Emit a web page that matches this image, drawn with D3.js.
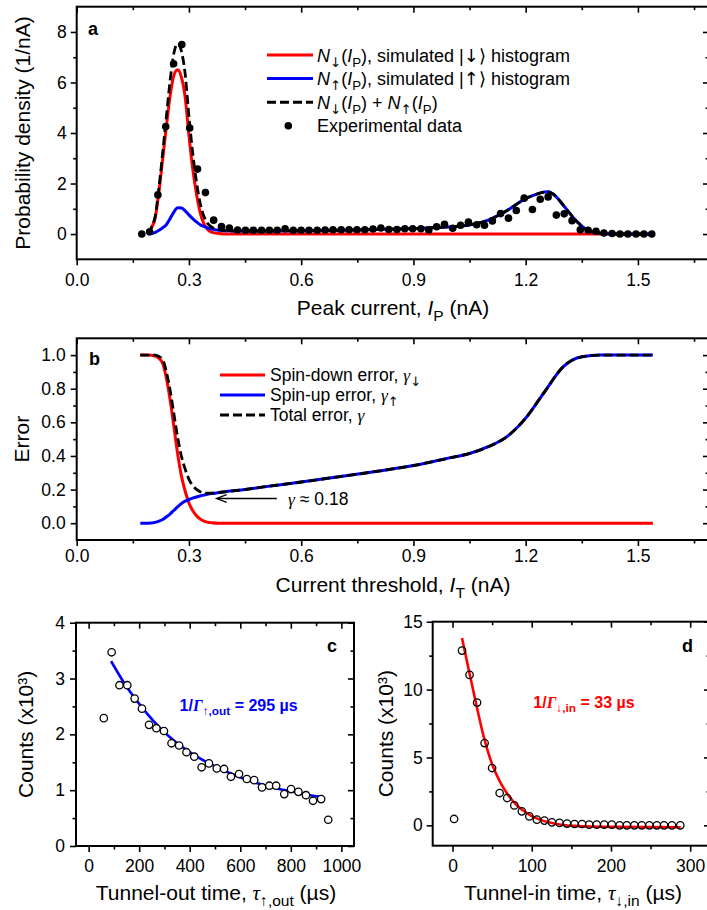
<!DOCTYPE html>
<html lang="en">
<head>
<meta charset="utf-8">
<title>Spin readout histograms</title>
<script src="https://cdn.jsdelivr.net/npm/d3@7"></script>
<style>
body { margin: 0; background: #fff; }
svg { display: block; font-family: "Liberation Sans", Arial, sans-serif; }
.tick line { stroke: #000; stroke-width: 1.6; }
.tick text { font-size: 17.5px; fill: #000; font-family: "Liberation Sans", Arial, sans-serif; }
.frame { fill: none; stroke: #000; stroke-width: 2; }
.title { font-size: 21px; fill: #000; }
.leg { font-size: 18px; fill: #000; }
.lbl { font-size: 18px; font-weight: bold; fill: #000; }
</style>
</head>
<body>
<script>
// ---- panel a : peak current histogram
var aX = [0.174,0.195,0.217,0.238,0.259,0.281,0.302,0.323,0.344,0.366,0.387,0.408,0.430,0.451,0.472,0.494,
  0.515,0.536,0.557,0.579,0.600,0.621,0.643,0.664,0.685,0.707,0.728,0.749,0.770,0.792,0.813,0.834,0.856,
  0.877,0.898,0.920,0.941,0.962,0.983,1.005,1.026,1.047,1.069,1.090,1.111,1.133,1.154,1.175,1.196,1.218,
  1.239,1.260,1.282,1.303,1.324,1.346,1.367,1.388,1.409,1.431,1.452,1.473,1.495,1.516,1.537];
var aY = [0,0.09,1.55,4.26,6.74,7.5,4.2,2.57,1.64,0.55,0.3,0.24,0.16,0.15,0.15,0.15,
  0.15,0.15,0.21,0.15,0.15,0.15,0.15,0.16,0.17,0.17,0.17,0.17,0.17,0.2,0.24,0.18,0.18,
  0.21,0.21,0.21,0.16,0.29,0.39,0.23,0.35,0.47,0.37,0.35,0.52,0.81,0.63,0.93,1.42,0.97,
  1.38,1.47,0.75,0.8,0.53,0.17,0.15,0.11,0.04,0.02,0,0,0,0,0];
var aCurveX = [0.19,0.20,0.21,0.22,0.23,0.24,0.25,0.26,0.27,0.28,0.29,0.30,0.31,0.32,0.33,0.34,0.35,0.36,
  0.38,0.40,0.45,0.50,0.60,0.70,0.80,0.90,0.95,1.00,1.05,1.10,1.15,1.20,1.22,1.24,1.26,1.28,1.30,1.32,
  1.34,1.36,1.38,1.40,1.42,1.45,1.50,1.54];
var aDown = [0,0.25,0.65,1.7,3.0,4.3,5.5,6.3,6.5,6.2,5.4,3.9,2.6,1.6,0.85,0.4,0.18,0.08,
  0.02,0,0,0,0,0,0,0,0,0,0,0,0,0,0,0,0,0,0,0,0,0,0,0,0,0,0,0];
var aUp = [0,0.02,0.07,0.15,0.25,0.38,0.62,0.88,1.04,1.03,0.92,0.76,0.61,0.48,0.37,0.3,0.24,0.2,
  0.15,0.13,0.12,0.12,0.13,0.15,0.18,0.22,0.25,0.29,0.36,0.55,0.93,1.4,1.53,1.63,1.67,1.5,1.15,0.78,
  0.45,0.2,0.08,0.03,0.01,0,0,0];
var aXTicks = [0,0.3,0.6,0.9,1.2,1.5], aXMinor = [0.15,0.45,0.75,1.05,1.35,1.65];
var aYTicks = [0,2,4,6,8], aYMinor = [1,3,5,7];

// ---- panel b : readout error vs threshold
var bCurveX = [0.17,0.19,0.21,0.22,0.23,0.24,0.25,0.26,0.27,0.28,0.29,0.30,0.31,0.32,0.33,0.34,0.35,0.36,
  0.38,0.40,0.45,0.50,0.60,0.70,0.80,0.90,1.00,1.05,1.10,1.15,1.20,1.25,1.30,1.35,1.40,1.45,1.50,1.54];
var bDown = [1,1,0.995,0.98,0.95,0.86,0.73,0.57,0.41,0.28,0.19,0.12,0.075,0.045,0.025,0.012,0.006,0.003,
  0,0,0,0,0,0,0,0,0,0,0,0,0,0,0,0,0,0,0,0];
var bUp = [0,0,0.005,0.012,0.022,0.038,0.056,0.077,0.098,0.117,0.131,0.141,0.149,0.156,0.162,0.167,0.172,0.176,
  0.182,0.188,0.2,0.216,0.245,0.276,0.308,0.343,0.39,0.415,0.455,0.515,0.625,0.78,0.93,0.99,1,1,1,1];
var bYTicks = [0,0.2,0.4,0.6,0.8,1.0], bYMinor = [0.1,0.3,0.5,0.7,0.9];

// ---- panel c : tunnel-out times
var cT = [60,91,122,153,182,211,239,268,298,328,358,387,418,447,476,507,536,563,595,626,655,686,
  715,742,774,801,830,860,888,920,948];
var cN = [2.29,3.47,2.88,2.88,2.64,2.46,2.17,2.11,2.06,1.84,1.80,1.68,1.60,1.41,1.48,1.39,1.38,1.24,
  1.29,1.20,1.18,1.05,1.08,1.08,0.93,1.02,0.97,0.91,0.81,0.84,0.47];
var cFitT = [89,149,215,281,348,414,480,546,612,679,745,811,877,917];
var cFitN = [3.31,2.86,2.46,2.12,1.85,1.64,1.47,1.33,1.21,1.11,1.03,0.97,0.91,0.88];
var cXTicks = [0,200,400,600,800,1000], cXMinor = [100,300,500,700,900];
var cYTicks = [0,1,2,3,4], cYMinor = [0.5,1.5,2.5,3.5];

// ---- panel d : tunnel-in times
var dT = [2,12,21.5,31,40.5,50,59.5,69,78,87.5,97,106.5,116,125.5,135,144.5,154,163.5,172.5,182,
  191.5,201,211,220,229.5,239,248.5,258,267,277,287.5];
var dN = [0.47,12.87,11.08,9.04,6.06,4.22,2.38,2.01,1.47,1.03,0.66,0.42,0.35,0.22,0.18,0.13,0.1,0.1,
  0.05,0.05,0.05,0.05,0,0,0,0,0,0,0,0,0];
var dFitT = [12,20,30,40,50,60,70,80,90,100,110,120,130,140,155,175,200,250,288];
var dFitN = [13.8,11.6,8.9,6.4,4.5,3.2,2.25,1.55,1.05,0.68,0.42,0.24,0.12,0.03,-0.04,-0.09,-0.11,-0.13,-0.14];
var dXTicks = [0,100,200,300], dXMinor = [50,150,250];
var dYTicks = [0,5,10,15], dYMinor = [2.5,7.5,12.5];

var RED = "#ff0000", BLUE = "#0000ff";

var svg = d3.select("body").append("svg").attr("width", 707).attr("height", 910);

// frame + mirrored ticks: labels/outward ticks on left & bottom, inward ticks on top & right
function axes(x, y, o) {
  var g = svg.append("g");
  var xr = x.range(), yr = y.range();
  var add = function(ax, tr) {
    var a = g.append("g").attr("transform", tr).call(ax);
    a.select(".domain").remove();
    return a;
  };
  add(d3.axisBottom(x).tickValues(o.xMaj).tickSize(6).tickPadding(o.xPad).tickFormat(o.xFmt), "translate(0," + yr[0] + ")");
  add(d3.axisBottom(x).tickValues(o.xMin).tickSize(3.5).tickFormat(""), "translate(0," + yr[0] + ")");
  add(d3.axisTop(x).tickValues(o.xMaj).tickSize(-6).tickFormat(""), "translate(0," + yr[1] + ")");
  add(d3.axisTop(x).tickValues(o.xMin).tickSize(-3.5).tickFormat(""), "translate(0," + yr[1] + ")");
  add(d3.axisLeft(y).tickValues(o.yMaj).tickSize(6).tickPadding(o.yPad).tickFormat(o.yFmt), "translate(" + xr[0] + ",0)");
  add(d3.axisLeft(y).tickValues(o.yMin).tickSize(3.5).tickFormat(""), "translate(" + xr[0] + ",0)");
  add(d3.axisRight(y).tickValues(o.yMaj).tickSize(-6).tickFormat(""), "translate(" + xr[1] + ",0)");
  add(d3.axisRight(y).tickValues(o.yMin).tickSize(-3.5).tickFormat(""), "translate(" + xr[1] + ",0)");
  g.append("rect").attr("class", "frame")
    .attr("x", xr[0]).attr("y", yr[1])
    .attr("width", xr[1] - xr[0]).attr("height", yr[0] - yr[1]);
  return g;
}

// text with italic / greek / subscript / arrow pieces
function rich(sel, parts, fs) {
  var shift = 0;
  parts.forEach(function(p) {
    var s = sel.append("tspan").text(p.t);
    if (p.i) s.style("font-style", "italic");
    if (p.g) s.style("font-family", "'Liberation Serif', serif").style("font-style", "italic");
    if (p.ar) s.style("font-family", "'DejaVu Sans', sans-serif").style("font-weight", "normal");
    var want = p.sub ? fs * 0.28 : 0;
    if (want !== shift) { s.attr("dy", want - shift); shift = want; }
    if (p.sub) s.style("font-size", (fs * 0.74) + "px");
  });
  return sel;
}

function line(x, y) {
  return d3.line().x(function(d) { return x(d[0]); }).y(function(d) { return y(d[1]); }).curve(d3.curveMonotoneX);
}
function zip(a, b) { return a.map(function(v, i) { return [v, b[i]]; }); }

// =============== panel a
var xa = d3.scaleLinear().domain([0, 1.69]).range([76.7, 709]);
var ya = d3.scaleLinear().domain([-1, 9]).range([259.3, 6.7]);
axes(xa, ya, {xMaj: aXTicks, xMin: aXMinor, yMaj: aYTicks, yMin: aYMinor, xPad: 8.5, yPad: 4,
  xFmt: d3.format(".1f"), yFmt: d3.format("d")});

var la = line(xa, ya);
svg.append("path").attr("d", la(zip(aCurveX, aDown))).attr("fill", "none").attr("stroke", RED).attr("stroke-width", 3);
svg.append("path").attr("d", la(zip(aCurveX, aUp))).attr("fill", "none").attr("stroke", BLUE).attr("stroke-width", 3);
svg.append("path").attr("d", la(aCurveX.map(function(v, i) { return [v, aDown[i] + aUp[i]]; })))
  .attr("fill", "none").attr("stroke", "#000").attr("stroke-width", 2.8).attr("stroke-dasharray", "9,4");
svg.append("g").selectAll("circle").data(zip(aX, aY)).enter().append("circle")
  .attr("cx", function(d) { return xa(d[0]); }).attr("cy", function(d) { return ya(d[1]); })
  .attr("r", 3.8).attr("fill", "#000");

svg.append("text").attr("class", "lbl").attr("x", 88).attr("y", 35).text("a");

var legA = [
  {c: RED, parts: [{t: "N", i: 1}, {t: "\u2193", sub: 1, ar: 1}, {t: "("}, {t: "I", i: 1}, {t: "P", sub: 1},
    {t: "), simulated |"}, {t: "\u2193", ar: 1}, {t: "\u27E9 histogram"}]},
  {c: BLUE, parts: [{t: "N", i: 1}, {t: "\u2191", sub: 1, ar: 1}, {t: "("}, {t: "I", i: 1}, {t: "P", sub: 1},
    {t: "), simulated |"}, {t: "\u2191", ar: 1}, {t: "\u27E9 histogram"}]},
  {c: "#000", dash: 1, parts: [{t: "N", i: 1}, {t: "\u2193", sub: 1, ar: 1}, {t: "("}, {t: "I", i: 1}, {t: "P", sub: 1}, {t: ") + "},
    {t: "N", i: 1}, {t: "\u2191", sub: 1, ar: 1}, {t: "("}, {t: "I", i: 1}, {t: "P", sub: 1}, {t: ")"}]},
  {dot: 1, parts: [{t: "Experimental data"}]}
];
legA.forEach(function(r, i) {
  var yy = 55 + i * 23.6;
  if (r.dot) svg.append("circle").attr("cx", 288.3).attr("cy", yy).attr("r", 3.8).attr("fill", "#000");
  else svg.append("line").attr("x1", 267).attr("x2", 313).attr("y1", yy).attr("y2", yy)
    .attr("stroke", r.c).attr("stroke-width", 3).attr("stroke-dasharray", r.dash ? "9,4" : null);
  rich(svg.append("text").attr("class", "leg").attr("x", 317).attr("y", yy + 6.5), r.parts, 18);
});

svg.append("text").attr("class", "title").attr("text-anchor", "middle")
  .attr("transform", "translate(30," + (ya(4)) + ") rotate(-90)").text("Probability density (1/nA)");
rich(svg.append("text").attr("class", "title").attr("text-anchor", "middle").attr("x", 393).attr("y", 315),
  [{t: "Peak current, "}, {t: "I", i: 1}, {t: "P", sub: 1}, {t: " (nA)"}], 21);

// =============== panel b
var xb = d3.scaleLinear().domain([0, 1.69]).range([76.7, 709]);
var yb = d3.scaleLinear().domain([-0.1, 1.1]).range([540, 338.3]);
axes(xb, yb, {xMaj: aXTicks, xMin: aXMinor, yMaj: bYTicks, yMin: bYMinor, xPad: 4, yPad: 5,
  xFmt: d3.format(".1f"), yFmt: d3.format(".1f")});

var lb = line(xb, yb);
svg.append("path").attr("d", lb(zip(bCurveX, bDown))).attr("fill", "none").attr("stroke", RED).attr("stroke-width", 3);
svg.append("path").attr("d", lb(zip(bCurveX, bUp))).attr("fill", "none").attr("stroke", BLUE).attr("stroke-width", 3);
svg.append("path").attr("d", lb(bCurveX.map(function(v, i) { return [v, bDown[i] + bUp[i]]; })))
  .attr("fill", "none").attr("stroke", "#000").attr("stroke-width", 2.8).attr("stroke-dasharray", "9,4");

svg.append("text").attr("class", "lbl").attr("x", 89).attr("y", 365).text("b");

var legB = [
  {c: RED, parts: [{t: "Spin-down error, "}, {t: "\u03B3", g: 1}, {t: "\u2193", sub: 1, ar: 1}]},
  {c: BLUE, parts: [{t: "Spin-up error, "}, {t: "\u03B3", g: 1}, {t: "\u2191", sub: 1, ar: 1}]},
  {c: "#000", dash: 1, parts: [{t: "Total error, "}, {t: "\u03B3", g: 1}]}
];
legB.forEach(function(r, i) {
  var yy = 375 + i * 20;
  svg.append("line").attr("x1", 220).attr("x2", 265).attr("y1", yy).attr("y2", yy)
    .attr("stroke", r.c).attr("stroke-width", 3).attr("stroke-dasharray", r.dash ? "9,4" : null);
  rich(svg.append("text").attr("class", "leg").style("font-size", "17.5px").attr("x", 270).attr("y", yy + 6), r.parts, 17.5);
});

// arrow to the minimum total error
var tipX = xb(0.374), tipY = yb(0.147);
svg.append("line").attr("x1", xb(0.535)).attr("x2", tipX + 1).attr("y1", tipY).attr("y2", tipY)
  .attr("stroke", "#000").attr("stroke-width", 1.3);
svg.append("path").attr("d", "M" + (tipX + 10) + "," + (tipY - 3.8) + "L" + tipX + "," + tipY + "L" + (tipX + 10) + "," + (tipY + 3.8))
  .attr("fill", "none").attr("stroke", "#000").attr("stroke-width", 1.3);
rich(svg.append("text").attr("class", "leg").style("font-size", "17.5px").attr("x", xb(0.565)).attr("y", yb(0.109)),
  [{t: "\u03B3", g: 1}, {t: " \u2248 0.18"}], 17.5);

svg.append("text").attr("class", "title").attr("text-anchor", "middle")
  .attr("transform", "translate(28.5," + yb(0.5) + ") rotate(-90)").text("Error");
rich(svg.append("text").attr("class", "title").attr("text-anchor", "middle").attr("x", 393).attr("y", 592),
  [{t: "Current threshold, "}, {t: "I", i: 1}, {t: "T", sub: 1}, {t: " (nA)"}], 21);

// =============== panel c
var xc = d3.scaleLinear().domain([-50, 1050]).range([76, 354]);
var yc = d3.scaleLinear().domain([0, 4]).range([846, 622.7]);
axes(xc, yc, {xMaj: cXTicks, xMin: cXMinor, yMaj: cYTicks, yMin: cYMinor, xPad: 8, yPad: 5,
  xFmt: d3.format("d"), yFmt: d3.format("d")});
svg.append("path").attr("d", line(xc, yc)(zip(cFitT, cFitN))).attr("fill", "none").attr("stroke", BLUE).attr("stroke-width", 2.6);
svg.append("g").selectAll("circle").data(zip(cT, cN)).enter().append("circle")
  .attr("cx", function(d) { return xc(d[0]); }).attr("cy", function(d) { return yc(d[1]); })
  .attr("r", 3.7).attr("fill", "#fff").attr("stroke", "#000").attr("stroke-width", 1.3);
svg.append("text").attr("class", "lbl").attr("text-anchor", "end").attr("x", 337).attr("y", 652).text("c");
rich(svg.append("text").attr("x", xc(360)).attr("y", yc(2.42)).style("font-size", "16px")
  .style("font-weight", "bold").attr("fill", BLUE),
  [{t: "1/"}, {t: "\u0393", g: 1}, {t: "\u2191,out", sub: 1}, {t: " = 295 \u00B5s"}], 16);
svg.append("text").attr("class", "title").attr("text-anchor", "middle")
  .attr("transform", "translate(33," + yc(2) + ") rotate(-90)").text("Counts (x10\u00B3)");
rich(svg.append("text").attr("class", "title").attr("text-anchor", "middle").attr("x", 216).attr("y", 900),
  [{t: "Tunnel-out time,  "}, {t: "\u03C4", g: 1}, {t: "\u2191,out", sub: 1}, {t: " (\u00B5s)"}], 21);

// =============== panel d
var xd = d3.scaleLinear().domain([-25, 325]).range([432.7, 710]);
var yd = d3.scaleLinear().domain([-1.5, 15]).range([845.7, 621.7]);
axes(xd, yd, {xMaj: dXTicks, xMin: dXMinor, yMaj: dYTicks, yMin: dYMinor, xPad: 8, yPad: 4,
  xFmt: d3.format("d"), yFmt: d3.format("d")});
svg.append("path").attr("d", line(xd, yd)(zip(dFitT, dFitN))).attr("fill", "none").attr("stroke", RED).attr("stroke-width", 2.6);
svg.append("g").selectAll("circle").data(zip(dT, dN)).enter().append("circle")
  .attr("cx", function(d) { return xd(d[0]); }).attr("cy", function(d) { return yd(d[1]); })
  .attr("r", 3.7).attr("fill", "none").attr("stroke", "#000").attr("stroke-width", 1.3);
svg.append("text").attr("class", "lbl").attr("text-anchor", "end").attr("x", 693).attr("y", 652).text("d");
rich(svg.append("text").attr("x", xd(102)).attr("y", yd(8.65)).style("font-size", "16px")
  .style("font-weight", "bold").attr("fill", RED),
  [{t: "1/"}, {t: "\u0393", g: 1}, {t: "\u2193,in", sub: 1}, {t: " = 33 \u00B5s"}], 16);
svg.append("text").attr("class", "title").attr("text-anchor", "middle")
  .attr("transform", "translate(393," + yd(6.75) + ") rotate(-90)").text("Counts (x10\u00B3)");
rich(svg.append("text").attr("class", "title").attr("text-anchor", "middle").attr("x", 573).attr("y", 900),
  [{t: "Tunnel-in time,  "}, {t: "\u03C4", g: 1}, {t: "\u2193,in", sub: 1}, {t: " (\u00B5s)"}], 21);
</script>
</body>
</html>
